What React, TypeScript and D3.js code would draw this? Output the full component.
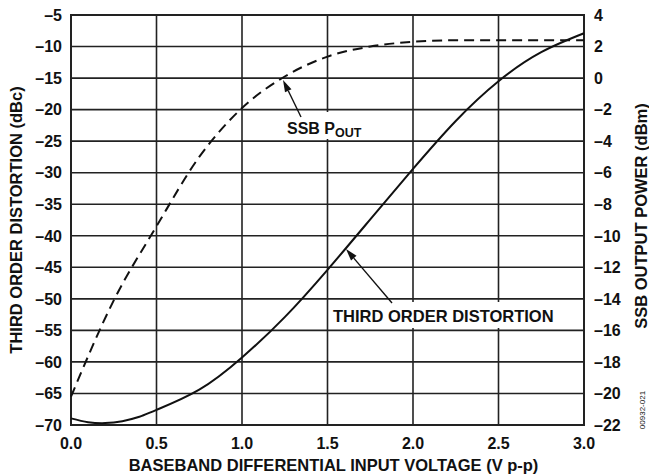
import * as d3 from "d3";

// x axis: baseband differential input voltage (V p-p)
const xTicks = [0, 0.5, 1.0, 1.5, 2.0, 2.5, 3.0];
const leftTicks = [-5, -10, -15, -20, -25, -30, -35, -40, -45, -50, -55, -60, -65, -70];
const rightTicks = [4, 2, 0, -2, -4, -6, -8, -10, -12, -14, -16, -18, -20, -22];

// third order distortion (dBc, left axis)
const tdVolts = [0, 0.1, 0.2, 0.3, 0.4, 0.5, 0.75, 1.0, 1.25, 1.5, 1.75, 2.0, 2.25, 2.5, 2.75, 3.0];
const tdValues = [-68.95, -69.55, -69.7, -69.4, -68.7, -67.6, -64.4, -59.3, -52.9, -45.4, -37.4, -29.4, -21.8, -15.5, -10.9, -7.9];

// SSB output power (dBm, right axis)
const ssbVolts = [0, 0.25, 0.5, 0.75, 1.0, 1.25, 1.5, 1.75, 2.0, 2.25, 2.5, 2.75, 3.0];
const ssbValues = [-20.2, -14.1, -9.4, -5.0, -1.9, 0.1, 1.36, 2.0, 2.3, 2.4, 2.4, 2.4, 2.4];

const W = 649;
const H = 475;
const plot = { left: 71, right: 584, top: 15, bottom: 425 };
const font = "Arial, 'Liberation Sans', Helvetica, sans-serif";
const ink = "#111";

const fmtTick = (v: number) => (v < 0 ? "\u2013" + Math.abs(v) : String(v));

function Arrow({ x1, y1, x2, y2 }) {
  // line from (x1,y1) to tip (x2,y2) with filled head
  const ang = Math.atan2(y2 - y1, x2 - x1);
  const len = 12;
  const half = 3.6;
  const bx = x2 - len * Math.cos(ang);
  const by = y2 - len * Math.sin(ang);
  const px = -Math.sin(ang) * half;
  const py = Math.cos(ang) * half;
  return (
    <g>
      <line x1={x1} y1={y1} x2={bx} y2={by} stroke={ink} strokeWidth={1.4} />
      <path d={`M${x2},${y2}L${bx + px},${by + py}L${bx - px},${by - py}Z`} fill={ink} />
    </g>
  );
}

export default function App() {
  const x = d3.scaleLinear([0, 3], [plot.left, plot.right]);
  const yL = d3.scaleLinear([-70, -5], [plot.bottom, plot.top]);
  const yR = d3.scaleLinear([-22, 4], [plot.bottom, plot.top]);

  const tdLine = d3
    .line<number>()
    .x((_, i) => x(tdVolts[i]))
    .y((d) => yL(d))
    .curve(d3.curveNatural)(tdValues);

  const ssbLine = d3
    .line<number>()
    .x((_, i) => x(ssbVolts[i]))
    .y((d) => yR(d))
    .curve(d3.curveMonotoneX)(ssbValues);

  const midY = (plot.top + plot.bottom) / 2;

  return (
    <svg
      width={W}
      height={H}
      style={{ position: "absolute", left: 0, top: 0, background: "#fff" }}
      fontFamily={font}
      fontWeight="bold"
    >
      {/* grid */}
      <g stroke="#222" strokeWidth={1.6}>
        {leftTicks.map((t) => (
          <line key={"h" + t} x1={plot.left} x2={plot.right} y1={yL(t)} y2={yL(t)} />
        ))}
        {xTicks.map((t) => (
          <line key={"v" + t} x1={x(t)} x2={x(t)} y1={plot.top} y2={plot.bottom} />
        ))}
      </g>
      <rect
        x={plot.left}
        y={plot.top}
        width={plot.right - plot.left}
        height={plot.bottom - plot.top}
        fill="none"
        stroke="#222"
        strokeWidth={2}
      />

      {/* label masks */}
      <rect x={282} y={112} width={88} height={27} fill="#fff" />
      <rect x={329} y={302} width={254} height={26} fill="#fff" />

      {/* curves */}
      <path d={ssbLine} fill="none" stroke={ink} strokeWidth={2} strokeDasharray="10,6" />
      <path d={tdLine} fill="none" stroke={ink} strokeWidth={2} />

      {/* annotations */}
      <Arrow x1={301} y1={117} x2={283} y2={80} />
      <text x={287} y={134} fontSize={16} fill={ink}>
        SSB P
        <tspan fontSize={12.5} dy={3}>OUT</tspan>
      </text>
      <Arrow x1={392} y1={303} x2={346} y2={249} />
      <text x={333} y={322} fontSize={16.5} fill={ink}>
        THIRD ORDER DISTORTION
      </text>

      {/* left ticks */}
      <g fontSize={16} fill={ink} textAnchor="end">
        {leftTicks.map((t) => (
          <text key={"l" + t} x={62} y={yL(t)} dy="0.36em">
            {fmtTick(t)}
          </text>
        ))}
      </g>
      {/* right ticks */}
      <g fontSize={16} fill={ink} textAnchor="start">
        {rightTicks.map((t) => (
          <text key={"r" + t} x={594} y={yR(t)} dy="0.36em">
            {fmtTick(t)}
          </text>
        ))}
      </g>
      {/* x ticks */}
      <g fontSize={16} fill={ink} textAnchor="middle">
        {xTicks.map((t) => (
          <text key={"x" + t} x={x(t)} y={449}>
            {t.toFixed(1)}
          </text>
        ))}
      </g>

      {/* axis titles */}
      <text x={(plot.left + plot.right) / 2 + 6} y={471} fontSize={16.5} fill={ink} textAnchor="middle">
        BASEBAND DIFFERENTIAL INPUT VOLTAGE (V p-p)
      </text>
      <text
        transform={`translate(22,${midY}) rotate(-90)`}
        fontSize={16.5}
        fill={ink}
        textAnchor="middle"
      >
        THIRD ORDER DISTORTION (dBc)
      </text>
      <text
        transform={`translate(647,${216}) rotate(-90)`}
        fontSize={16.5}
        fill={ink}
        textAnchor="middle"
      >
        SSB OUTPUT POWER (dBm)
      </text>
      <text
        transform={`translate(645,${410}) rotate(-90)`}
        fontSize={8}
        fill={ink}
        textAnchor="middle"
        fontWeight="normal"
      >
        00932-021
      </text>
    </svg>
  );
}
